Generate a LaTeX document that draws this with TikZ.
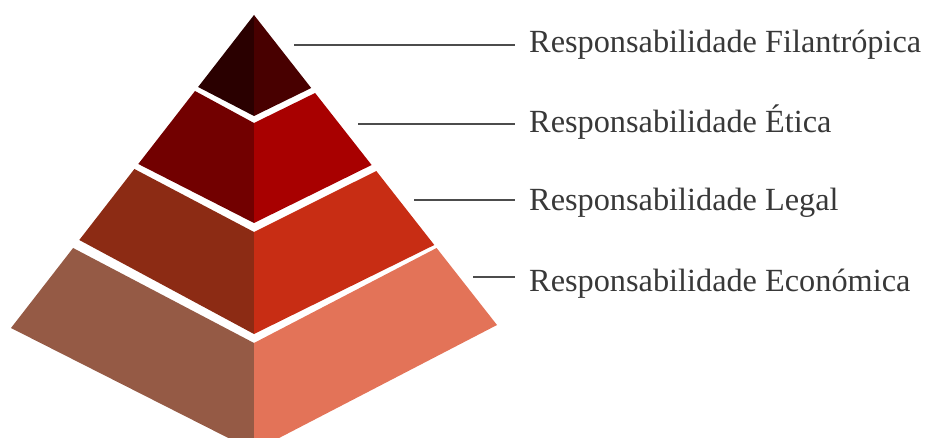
\documentclass[tikz,border=0pt]{standalone}
\usepackage{fontspec}
\setmainfont{Liberation Serif}
\begin{document}
\begin{tikzpicture}[x=1pt,y=-1pt,
  leader/.style={draw=black!70,line width=1.7pt},
  label/.style={anchor=base west,inner sep=0pt,text=black!78,font=\fontsize{32.3}{36}\selectfont}]
\definecolor{topL}{HTML}{2A0000}\definecolor{topR}{HTML}{480000}
\definecolor{ethL}{HTML}{720000}\definecolor{ethR}{HTML}{A80000}
\definecolor{legL}{HTML}{8C2B14}\definecolor{legR}{HTML}{C82D14}
\definecolor{ecoL}{HTML}{955A45}\definecolor{ecoR}{HTML}{E37358}
\useasboundingbox (0,0) rectangle (928,438);
\begin{scope}
\clip (0,0) rectangle (928,438);
% top tier
\fill[topL] (254,15) -- (198.1,87) -- (254,116) -- cycle;
\fill[topR] (254,15) -- (254,116) -- (311.2,88) -- cycle;
% second tier
\fill[ethL] (195.0,91) -- (138.3,164) -- (254,223) -- (254,123) -- cycle;
\fill[ethR] (254,123) -- (254,223) -- (371.6,165) -- (315.1,93) -- cycle;
% third tier
\fill[legL] (134.4,169) -- (79.3,240) -- (254,334) -- (254,232) -- cycle;
\fill[legR] (254,232) -- (254,334) -- (434.3,245) -- (376.3,171) -- cycle;
% base tier
\fill[ecoL] (73.1,248) -- (11,328) -- (254,451) -- (254,343) -- cycle;
\fill[ecoR] (254,343) -- (254,451) -- (497,325) -- (436.6,248) -- cycle;
\end{scope}
% leader lines
\coordinate (s1) at (294,45);  \coordinate (e1) at (515,45);
\coordinate (s2) at (358,124); \coordinate (e2) at (515,124);
\coordinate (s3) at (414,200); \coordinate (e3) at (515,200);
\coordinate (s4) at (473,277); \coordinate (e4) at (515,277);
\draw[leader] (s1) -- (e1);
\draw[leader] (s2) -- (e2);
\draw[leader] (s3) -- (e3);
\draw[leader] (s4) -- (e4);
% labels
\node[label] (t1) at (529,52.5)  {Responsabilidade Filantrópica};
\node[label] (t2) at (529,133)   {Responsabilidade Ética};
\node[label] (t3) at (529,211)   {Responsabilidade Legal};
\node[label] (t4) at (529,291)   {Responsabilidade Económica};
\end{tikzpicture}
\end{document}
